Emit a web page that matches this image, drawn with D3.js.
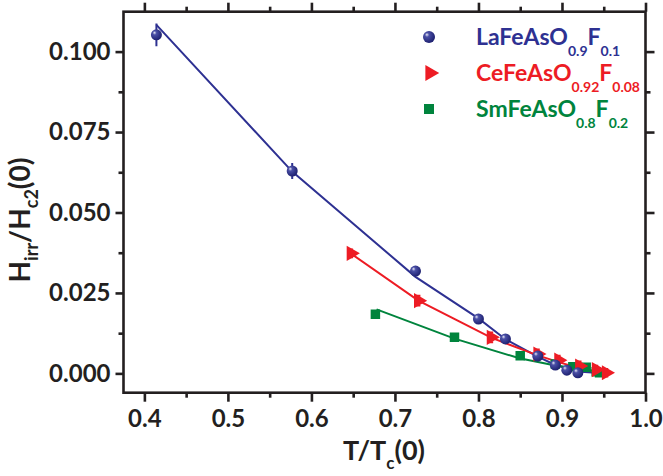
<!DOCTYPE html>
<html><head><meta charset="utf-8">
<script src="https://cdn.jsdelivr.net/npm/d3@7"></script>
<style>
html,body{margin:0;padding:0;background:#fff;}
svg{display:block;}
text{font-family:Lato,"Open Sans",sans-serif;font-weight:bold;}
</style></head>
<body>
<svg id="chart" width="663" height="476"></svg>
<script>
// ---- data ----
const xTicks = [0.4, 0.5, 0.6, 0.7, 0.8, 0.9, 1.0];
const xTickLabels = ["0.4", "0.5", "0.6", "0.7", "0.8", "0.9", "1.0"];
const yTicks = [0.000, 0.025, 0.050, 0.075, 0.100];
const yTickLabels = ["0.000", "0.025", "0.050", "0.075", "0.100"];

// LaFeAsO0.9F0.1
const laT = [0.4144, 0.577, 0.7246, 0.800, 0.8323, 0.871, 0.892, 0.9058, 0.919];
const laH = [0.1052, 0.0629, 0.0318, 0.0169, 0.0107, 0.0054, 0.0026, 0.0010, 0.0002];
const laErr = [0.0035, 0.0025, 0.0012, 0.0012, 0.0010, 0.0010, 0.0008, 0.0008, 0.0006];
const laFitT = [0.4144, 0.577, 0.7246, 0.800, 0.8323, 0.871, 0.892, 0.919, 0.940];
const laFitH = [0.1083, 0.0627, 0.0300, 0.0171, 0.0106, 0.0052, 0.0026, 0.0006, 0.0002];

// CeFeAsO0.92F0.08
const ceT = [0.6475, 0.7281, 0.8152, 0.871, 0.896, 0.921, 0.941, 0.953];
const ceH = [0.0373, 0.0226, 0.0112, 0.0060, 0.0041, 0.0023, 0.0012, 0.0002];
const ceErr = [0.0012, 0.0015, 0.0015, 0.0014, 0.0014, 0.0014, 0.0012, 0.0012];
const ceFitT = [0.6475, 0.7281, 0.8152, 0.871, 0.896, 0.921, 0.941, 0.953];
const ceFitH = [0.0372, 0.0226, 0.0111, 0.0056, 0.0035, 0.0016, 0.0006, 0.0001];

// SmFeAsO0.8F0.2
const smT = [0.6766, 0.7713, 0.850, 0.892, 0.913, 0.929, 0.941, 0.945];
const smH = [0.0184, 0.0112, 0.0055, 0.0029, 0.0021, 0.0019, 0.0005, 0.0002];
const smFitT = [0.678, 0.7713, 0.849, 0.889, 0.913, 0.929, 0.945];
const smFitH = [0.0199, 0.0108, 0.0047, 0.0026, 0.0017, 0.0011, 0.0004];

const colors = {la: "#2e3192", ce: "#ed1c24", sm: "#00843d"};

// ---- layout ----
const svg = d3.select("#chart");
const L = 123.5, R = 645.5, T = 11.7, B = 392.7;
const x = d3.scaleLinear().domain([0.375, 1.0]).range([L, R]);
const y = d3.scaleLinear().domain([-0.006, 0.1124]).range([B, T]);

// gradient for spheres
const defs = svg.append("defs");
const rg = defs.append("radialGradient").attr("id", "sphere")
  .attr("cx", "38%").attr("cy", "38%").attr("r", "65%").attr("fx", "32%").attr("fy", "30%");
rg.append("stop").attr("offset", "0%").attr("stop-color", "#e8e9f5");
rg.append("stop").attr("offset", "28%").attr("stop-color", "#4a4fa6");
rg.append("stop").attr("offset", "100%").attr("stop-color", "#1c1f6e");

const clip = defs.append("clipPath").attr("id", "plotclip");
clip.append("rect").attr("x", L).attr("y", T).attr("width", R - L).attr("height", B - T);

// axes (ticks outward on all sides)
const xMinor = d3.range(0.45, 1.0, 0.1);
const yMinor = [0.0125, 0.0375, 0.0625, 0.0875, 0.1125].filter(v => v <= 0.1124);
const axisW = 2.6;
svg.append("g").attr("transform", `translate(0,${B})`)
  .call(d3.axisBottom(x).tickValues(xTicks).tickFormat((d, i) => xTickLabels[i]).tickSize(9).tickPadding(8))
  .call(g => g.select(".domain").remove())
  .call(g => g.selectAll("line").attr("stroke", "#231f20").attr("stroke-width", axisW))
  .call(g => g.selectAll("text").attr("fill", "#231f20").style("font-size", "24px").attr("dy", "0.72em"));
svg.append("g").attr("transform", `translate(0,${B})`)
  .call(d3.axisBottom(x).tickValues(xMinor).tickFormat("").tickSize(5))
  .call(g => g.select(".domain").remove())
  .call(g => g.selectAll("line").attr("stroke", "#231f20").attr("stroke-width", axisW));
svg.append("g").attr("transform", `translate(0,${T})`)
  .call(d3.axisTop(x).tickValues(xTicks).tickFormat("").tickSize(9))
  .call(g => g.select(".domain").remove())
  .call(g => g.selectAll("line").attr("stroke", "#231f20").attr("stroke-width", axisW));
svg.append("g").attr("transform", `translate(0,${T})`)
  .call(d3.axisTop(x).tickValues(xMinor).tickFormat("").tickSize(5))
  .call(g => g.select(".domain").remove())
  .call(g => g.selectAll("line").attr("stroke", "#231f20").attr("stroke-width", axisW));

svg.append("g").attr("transform", `translate(${L},0)`)
  .call(d3.axisLeft(y).tickValues(yTicks).tickFormat((d, i) => yTickLabels[i]).tickSize(8).tickPadding(5))
  .call(g => g.select(".domain").remove())
  .call(g => g.selectAll("line").attr("stroke", "#231f20").attr("stroke-width", axisW))
  .call(g => g.selectAll("text").attr("fill", "#231f20").style("font-size", "24px"));
svg.append("g").attr("transform", `translate(${L},0)`)
  .call(d3.axisLeft(y).tickValues(yMinor).tickFormat("").tickSize(5))
  .call(g => g.select(".domain").remove())
  .call(g => g.selectAll("line").attr("stroke", "#231f20").attr("stroke-width", axisW));
svg.append("g").attr("transform", `translate(${R},0)`)
  .call(d3.axisRight(y).tickValues(yTicks).tickFormat("").tickSize(9))
  .call(g => g.select(".domain").remove())
  .call(g => g.selectAll("line").attr("stroke", "#231f20").attr("stroke-width", axisW));
svg.append("g").attr("transform", `translate(${R},0)`)
  .call(d3.axisRight(y).tickValues(yMinor).tickFormat("").tickSize(5))
  .call(g => g.select(".domain").remove())
  .call(g => g.selectAll("line").attr("stroke", "#231f20").attr("stroke-width", axisW));

svg.append("rect").attr("x", L).attr("y", T).attr("width", R - L).attr("height", B - T)
  .attr("fill", "none").attr("stroke", "#231f20").attr("stroke-width", axisW);

// axis titles
const xt = svg.append("text").attr("x", 384).attr("y", 460).attr("text-anchor", "middle")
  .attr("fill", "#231f20").style("font-size", "27px");
xt.append("tspan").text("T/T");
xt.append("tspan").attr("dy", 9).style("font-size", "17px").text("c");
xt.append("tspan").attr("dy", -9).text("(0)");

const yt = svg.append("text").attr("transform", "translate(30,220) rotate(-90)").attr("text-anchor", "middle")
  .attr("fill", "#231f20").style("font-size", "28px");
yt.append("tspan").text("H");
yt.append("tspan").attr("dy", 8).style("font-size", "18px").text("irr");
yt.append("tspan").attr("dy", -8).text("/H");
yt.append("tspan").attr("dy", 8).style("font-size", "18px").text("c2");
yt.append("tspan").attr("dy", -8).text("(0)");

const plot = svg.append("g").attr("clip-path", "url(#plotclip)");
const line = d3.line().x(d => x(d[0])).y(d => y(d[1]));
const zip = (a, b) => a.map((v, i) => [v, b[i]]);

// fit lines
plot.append("path").datum(zip(laFitT, laFitH)).attr("d", line).attr("fill", "none").attr("stroke", colors.la).attr("stroke-width", 2);
plot.append("path").datum(zip(ceFitT, ceFitH)).attr("d", line).attr("fill", "none").attr("stroke", colors.ce).attr("stroke-width", 2);
plot.append("path").datum(zip(smFitT, smFitH)).attr("d", line).attr("fill", "none").attr("stroke", colors.sm).attr("stroke-width", 2);

// error bars
function errbars(ts, hs, es, color, cap) {
  const g = plot.append("g").attr("stroke", color).attr("stroke-width", 2);
  ts.forEach((t, i) => {
    g.append("line").attr("x1", x(t)).attr("x2", x(t)).attr("y1", y(hs[i] - es[i])).attr("y2", y(hs[i] + es[i]));
    if (cap) {
      [hs[i] - es[i], hs[i] + es[i]].forEach(v => g.append("line")
        .attr("x1", x(t) - cap).attr("x2", x(t) + cap).attr("y1", y(v)).attr("y2", y(v)));
    }
  });
}
errbars(laT, laH, laErr, colors.la, 0);
errbars(ceT, ceH, ceErr, colors.ce, 2);

// markers
const tri = d3.symbol().type(d3.symbolTriangle).size(100);
const sq = d3.symbol().type(d3.symbolSquare).size(90);
plot.append("g").selectAll("path").data(zip(smT, smH)).join("path")
  .attr("d", sq).attr("transform", d => `translate(${x(d[0])},${y(d[1])})`).attr("fill", colors.sm);
plot.append("g").selectAll("path").data(zip(ceT, ceH)).join("path")
  .attr("d", tri).attr("transform", d => `translate(${x(d[0])},${y(d[1])}) rotate(90)`).attr("fill", colors.ce);
plot.append("g").selectAll("circle").data(zip(laT, laH)).join("circle")
  .attr("cx", d => x(d[0])).attr("cy", d => y(d[1])).attr("r", 5.5).attr("fill", "url(#sphere)");

// legend
const legend = [
  {key: "la", base: "LaFeAsO", s1: "0.9", s2: "0.1", y: 37},
  {key: "ce", base: "CeFeAsO", s1: "0.92", s2: "0.08", y: 73},
  {key: "sm", base: "SmFeAsO", s1: "0.8", s2: "0.2", y: 109}
];
legend.forEach(l => {
  const g = svg.append("g");
  if (l.key === "la") g.append("circle").attr("cx", 429).attr("cy", l.y).attr("r", 6).attr("fill", "url(#sphere)");
  if (l.key === "ce") g.append("path").attr("d", d3.symbol().type(d3.symbolTriangle).size(110)).attr("transform", `translate(430,${l.y}) rotate(90)`).attr("fill", colors.ce);
  if (l.key === "sm") g.append("path").attr("d", d3.symbol().type(d3.symbolSquare).size(100)).attr("transform", `translate(429,${l.y})`).attr("fill", colors.sm);
  const t = g.append("text").attr("x", 476).attr("y", l.y + 8).attr("fill", colors[l.key]).style("font-size", "23px");
  t.append("tspan").text(l.base);
  t.append("tspan").attr("dy", 11).style("font-size", "14px").text(l.s1);
  t.append("tspan").attr("dy", -11).text("F");
  t.append("tspan").attr("dy", 11).style("font-size", "14px").text(l.s2);
});
</script>
</body></html>
